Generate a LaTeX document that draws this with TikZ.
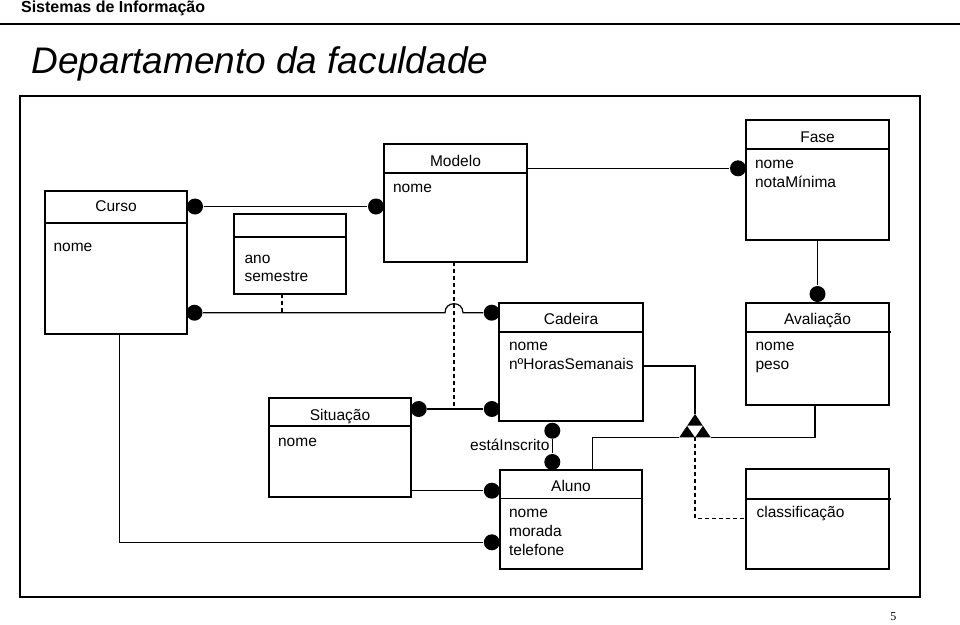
\documentclass[tikz,border=0pt]{standalone}
\usepackage{fontspec}
\setmainfont{Liberation Sans}
\newfontfamily\pagenumfont{Liberation Serif}
\begin{document}
\begin{tikzpicture}[x=1pt,y=-1pt,line width=1.2pt,
  box/.style={draw,rectangle,inner sep=0pt,outer sep=0pt,anchor=north west},
  dot/.style={circle,fill=black,inner sep=0pt,minimum size=16pt},
  lbl/.style={inner sep=0pt,font=\fontsize{15.5}{19}\selectfont},
  attr/.style={lbl,anchor=base west},
  ttl/.style={lbl,anchor=base},
  dsh/.style={dash pattern=on 4pt off 3pt}]
\fill[white] (0,0) rectangle (960,624);
\useasboundingbox (0,0) rectangle (960,624);

% header
\node[anchor=base west,inner sep=0pt,font=\fontsize{16}{19}\selectfont\bfseries] (hdr) at (20.5,12) {Sistemas de Informação};
\draw[line width=2.7pt] (0,24) coordinate (r1) -- (960,24) coordinate (r2);
\node[anchor=base west,inner sep=0pt,font=\fontsize{37}{40}\selectfont\itshape] (title) at (31,73) {Departamento da faculdade};

% frame
\node[box,minimum width=900pt,minimum height=501pt] (frame) at (20,96) {};

% classes
\node[box,minimum width=142pt,minimum height=143pt] (curso) at (45,191) {};
\draw (45,223) -- (187,223);
\node[ttl] (tcurso) at (116,211.7) {Curso};
\node[attr] (acurso) at (53,251) {nome};

\node[box,minimum width=112pt,minimum height=80pt] (anosem) at (234,214) {};
\draw (234,237) -- (346,237);
\node[attr] (aano) at (244,263) {ano};
\node[attr] (asem) at (244,281.5) {semestre};

\node[box,minimum width=143pt,minimum height=118pt] (modelo) at (384,144) {};
\draw (384,173) -- (527,173);
\node[ttl] (tmodelo) at (455.5,166) {Modelo};
\node[attr] (amodelo) at (392.5,192.7) {nome};

\node[box,minimum width=143pt,minimum height=120pt] (fase) at (746,120) {};
\draw (746,149) -- (889,149);
\node[ttl] (tfase) at (817.5,142.3) {Fase};
\node[attr] (afase1) at (754.5,168) {nome};
\node[attr] (afase2) at (754.5,187.3) {notaMínima};

\node[box,minimum width=144pt,minimum height=118pt] (cadeira) at (499,303) {};
\draw (499,332) -- (643,332);
\node[ttl] (tcadeira) at (571,324.3) {Cadeira};
\node[attr] (acad1) at (508.5,350.7) {nome};
\node[attr] (acad2) at (508.5,369.3) {nºHorasSemanais};

\node[box,minimum width=143pt,minimum height=102pt] (aval) at (746,303) {};
\draw (746,332) -- (891,332);
\node[ttl] (taval) at (817.5,324.3) {Avaliação};
\node[attr] (aaval1) at (755,350.7) {nome};
\node[attr] (aaval2) at (755,369.3) {peso};

\node[box,minimum width=142pt,minimum height=99pt] (situacao) at (269,398) {};
\draw (269,426) -- (411,426);
\node[ttl] (tsit) at (340,420) {Situação};
\node[attr] (asit) at (277.5,446) {nome};

\node[box,minimum width=142pt,minimum height=99pt] (aluno) at (500,470) {};
\draw (500,498.5) -- (642,498.5);
\node[ttl] (taluno) at (571,491.7) {Aluno};
\node[attr] (aal1) at (508.5,517.7) {nome};
\node[attr] (aal2) at (508.5,536.7) {morada};
\node[attr] (aal3) at (508.5,555.7) {telefone};

\node[box,minimum width=143pt,minimum height=100pt] (classif) at (746,469) {};
\draw (746,499) -- (891,499);
\node[attr] (acl) at (756,517.3) {classificação};

% dots
\node[dot] (dA) at (195,206.5) {};
\node[dot] (dB) at (376,206.5) {};
\node[dot] (dC) at (738,168.3) {};
\node[dot] (dD) at (817.5,294) {};
\node[dot] (dE) at (194.5,312.7) {};
\node[dot] (dF) at (491.7,312.7) {};
\node[dot] (dG) at (418.7,409) {};
\node[dot] (dH) at (491.8,409) {};
\node[dot] (dI) at (552.3,430.7) {};
\node[dot] (dJ) at (552.3,462) {};
\node[dot] (dK) at (491.8,490.7) {};
\node[dot] (dL) at (491.8,542.3) {};

% connectors
\draw (dA) -- (dB);
\draw (modelo.east |- dC) -- (dC);
\draw (fase.south) -- (dD);
\coordinate (j1) at (445,312.7);
\coordinate (j2) at (463,312.7);
\draw (dE) -- (j1) .. controls (445,300.7) and (463,300.7) .. (j2) -- (dF);
\draw (dG) -- (dH);
\draw (dI) -- (dJ);
\node[lbl,anchor=base east] (einscr) at (550,450) {estáInscrito};
\draw (situacao.east |- dK) -- (dK);
\coordinate (cb) at (119.5,334);
\draw (cb) |- (dL);

% dashed links
\draw[dsh] (282,294) -- (282,312.7);
\draw[dsh] (454,262) -- (454,409);

% generalisation-like triangle
\coordinate (tA) at (695,414);
\coordinate (tL) at (679.3,437.3);
\coordinate (tR) at (710.7,437.3);
\coordinate (tB) at (695,437.3);
\coordinate (c1) at (643,366);
\draw (c1) -| (tA);
\draw (aluno.north west -| 592.7,0) |- (tL);
\draw (tR) -| (aval.south -| 815,0);
\draw[dsh] (tB) |- (classif.west |- 0,518.3);
\fill (tA) -- (tL) -- (tR) -- cycle;
\fill[white] (687.1,425.7) -- (702.9,425.7) -- (tB) -- cycle;

% page number
\node[inner sep=0pt,font=\fontsize{12}{14}\pagenumfont] (pnum) at (893.3,617) {5};
\end{tikzpicture}
\end{document}
